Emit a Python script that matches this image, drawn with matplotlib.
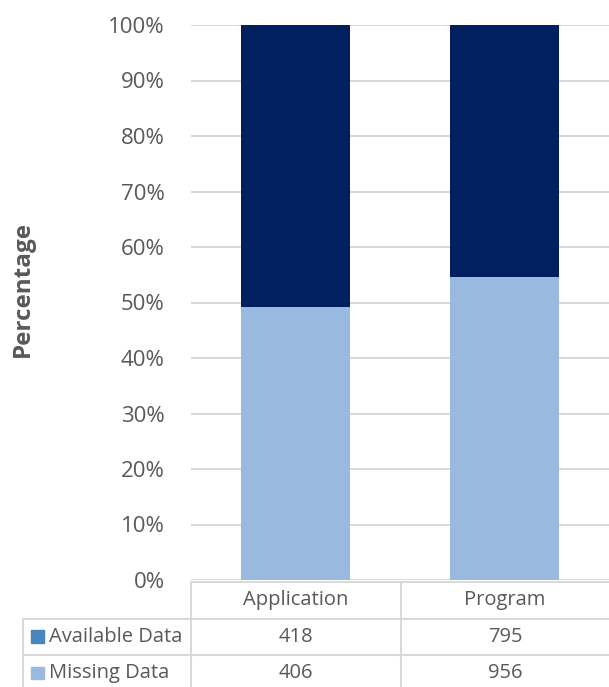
import matplotlib
matplotlib.use("Agg")
import matplotlib.pyplot as plt
from matplotlib.patches import Rectangle

categories = ["Application", "Program"]
series_names = ["Available Data", "Missing Data"]
available = [418, 795]
missing = [406, 956]
yticks = [0, 10, 20, 30, 40, 50, 60, 70, 80, 90, 100]

c_avail = "#002060"
c_avail_key = "#4A86BE"
c_miss = "#9AB9DF"
c_text = "#595959"
c_grid = "#D9D9D9"

plt.rcParams['font.family'] = ['Open Sans', 'DejaVu Sans']

W, H = 609, 687
fig = plt.figure(figsize=(W/100, H/100), dpi=100)

def fx(px): return px / W
def fy(py): return 1 - py / H

left, right, top, bottom = 191, 609, 25, 580
ax = fig.add_axes([fx(left), fy(bottom), fx(right - left), fy(top) - fy(bottom)])

tot = [a + m for a, m in zip(available, missing)]
miss_pct = [m / t * 100 for m, t in zip(missing, tot)]
avail_pct = [a / t * 100 for a, t in zip(available, tot)]
x = list(range(len(categories)))
bw = 0.52
ax.bar(x, miss_pct, width=bw, color=c_miss, zorder=3)
ax.bar(x, avail_pct, bottom=miss_pct, width=bw, color=c_avail, zorder=3)
ax.set_xlim(-0.5, len(categories) - 0.5)
ax.set_ylim(0, 100)
ax.set_yticks(yticks)
ax.set_yticklabels([f"{v}%" for v in yticks], fontsize=16, color=c_text)
ax.tick_params(axis='y', length=0, pad=19)
ax.set_xticks([])
for s in ax.spines.values():
    s.set_visible(False)
ax.grid(axis='y', color=c_grid, linewidth=1.45, zorder=0)
ax.set_axisbelow(True)

fig.text(fx(23), fy(289), "Percentage", rotation=90, ha='center', va='center',
         fontsize=17.5, fontweight='bold', color=c_text)

# data table
tab = fig.add_axes([0, 0, 1, 1], facecolor='none')
tab.set_xlim(0, W)
tab.set_ylim(H, 0)
tab.axis('off')
col_edges = [left, 401, right]
row_edges = [582, 618.5, 655, 691.5]
lw = 1.45
tab.plot([left, right], [row_edges[0]] * 2, color=c_grid, lw=lw)
for r in row_edges[1:3]:
    tab.plot([23, right], [r, r], color=c_grid, lw=lw)
tab.plot([23, 23], [row_edges[1], H], color=c_grid, lw=lw)
for cx in col_edges[:2]:
    tab.plot([cx, cx], [row_edges[0], H], color=c_grid, lw=lw)

fs = 14.5
for i, cat in enumerate(categories):
    cxm = (col_edges[i] + col_edges[i + 1]) / 2
    tab.text(cxm, (row_edges[0] + row_edges[1]) / 2, cat, ha='center', va='center',
             fontsize=fs, color=c_text)
    tab.text(cxm, (row_edges[1] + row_edges[2]) / 2, str(available[i]), ha='center', va='center',
             fontsize=fs, color=c_text)
    tab.text(cxm, (row_edges[2] + row_edges[3]) / 2, str(missing[i]), ha='center', va='center',
             fontsize=fs, color=c_text)

keys = [c_avail_key, c_miss]
for j, name in enumerate(series_names):
    yc = (row_edges[1 + j] + row_edges[2 + j]) / 2
    tab.add_patch(Rectangle((31, yc - 6.5), 12.5, 12.5, color=keys[j]))
    tab.text(49, yc, name, ha='left', va='center', fontsize=fs, color=c_text)

fig.savefig("out.png", dpi=100)
